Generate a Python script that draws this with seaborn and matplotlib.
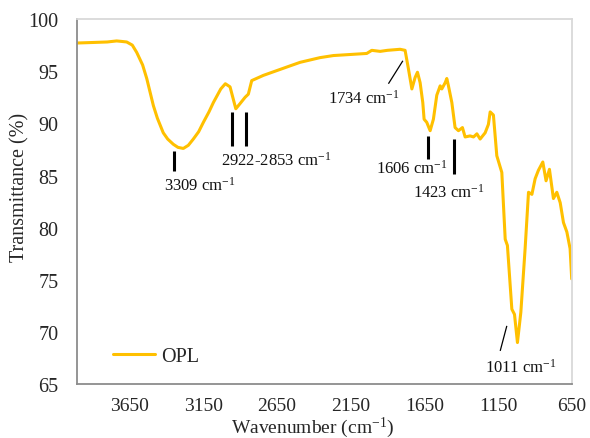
import matplotlib
matplotlib.use("Agg")
import matplotlib.pyplot as plt
import seaborn as sns
import pandas as pd

# ---- data ----
wavenumber = [4007, 3900, 3800, 3736, 3700, 3668, 3630, 3600, 3560, 3532, 3487, 3460,
              3420, 3390, 3352, 3320, 3284, 3250, 3216, 3180, 3148, 3110, 3080, 3030,
              2999, 2967, 2928, 2899, 2865, 2843, 2820,
              2741, 2582, 2492, 2357, 2266, 2153, 2040, 2006, 1949, 1900, 1814, 1780,
              1757, 1734, 1712, 1696, 1678, 1660, 1651, 1633, 1610, 1588, 1565, 1542,
              1531, 1508, 1497, 1486, 1463, 1441, 1418, 1391, 1373, 1339, 1316, 1293,
              1271, 1237, 1215, 1203, 1181, 1158, 1124, 1101, 1086, 1056, 1038, 1018,
              995, 966, 943, 920, 898, 876, 846, 824, 801, 774, 751, 728, 706, 683, 661, 650]
transmittance = [97.7, 97.75, 97.8, 97.9, 97.85, 97.8, 97.5, 96.8, 95.6, 94.3, 91.7, 90.5,
                 89.1, 88.5, 88.0, 87.7, 87.6, 87.9, 88.5, 89.2, 90.1, 91.1, 92.0, 93.3,
                 93.8, 93.5, 91.4, 91.9, 92.5, 92.8, 94.1,
                 94.6, 95.4, 95.85, 96.3, 96.5, 96.6, 96.7, 97.0, 96.9, 97.0, 97.1, 97.0,
                 95.2, 93.3, 94.4, 94.9, 93.9, 92.0, 90.4, 90.1, 89.3, 90.4, 92.7, 93.6,
                 93.3, 93.9, 94.3, 93.6, 92.0, 89.6, 89.3, 89.6, 88.7, 88.8, 88.7, 89.0,
                 88.5, 89.1, 89.9, 91.1, 90.8, 86.9, 85.3, 78.9, 78.3, 72.2, 71.7, 69.0,
                 71.9, 78.0, 83.4, 83.2, 84.7, 85.5, 86.3, 84.5, 85.6, 82.8, 83.4, 82.4,
                 80.5, 79.6, 78.0, 75.1]
series_name = "OPL"

x_ticks = [3650, 3150, 2650, 2150, 1650, 1150, 650]
y_ticks = [65, 70, 75, 80, 85, 90, 95, 100]

# annotation: label, label x, label y(baseline), ha, marker line (x0, y0, x1, y1), line width
peak_labels = ["3309", "2922-2853", "1734", "1606", "1423", "1011"]
peak_label_x = [3175, 3028, 2060, 1734, 1483, 994]
peak_label_y = [83.65, 86.0, 92.0, 85.3, 83.0, 66.2]
peak_label_ha = ["center", "left", "center", "center", "center", "center"]
peak_lines = [
    [(3347, 87.4, 3347, 85.4)],
    [(2955, 91.1, 2955, 87.8), (2860, 91.1, 2860, 87.8)],
    [(1893, 93.8, 1795, 96.0)],
    [(1626, 88.8, 1626, 86.6)],
    [(1447, 88.5, 1447, 85.15)],
    [(1090, 70.6, 1135, 68.2)],
]
peak_line_w = [2.2, 2.2, 0.9, 2.2, 2.2, 0.9]

df = pd.DataFrame({"Wavenumber": wavenumber, "Transmittance": transmittance,
                   "Sample": series_name})

sns.set_style("white")
plt.rcParams["font.family"] = ["Liberation Serif", "DejaVu Serif"]
plt.rcParams["mathtext.fontset"] = "custom"
plt.rcParams["mathtext.rm"] = "Liberation Serif"
plt.rcParams["mathtext.it"] = "Liberation Serif:italic"
plt.rcParams["mathtext.bf"] = "Liberation Serif:bold"

fig = plt.figure(figsize=(5.9, 4.39), dpi=100)
ax = fig.add_axes([0.1300, 0.1223, 0.8390, 0.8321])

sns.lineplot(data=df, x="Wavenumber", y="Transmittance", hue="Sample",
             palette=["#FFC000"], sort=False, linewidth=2.2, ax=ax)

ax.set_xlim(4007, 650)
ax.set_ylim(65, 100)
ax.set_xticks(x_ticks)
ax.set_yticks(y_ticks)
ax.tick_params(axis="x", direction="out", length=4, width=1, color="#8c8c8c",
               labelsize=14, pad=5)
ax.tick_params(axis="y", direction="in", length=4, width=1, color="#8c8c8c",
               labelsize=14.5, pad=13)

for side in ["left", "bottom"]:
    ax.spines[side].set_color("#8c8c8c")
    ax.spines[side].set_linewidth(1.3)
for side in ["top", "right"]:
    ax.spines[side].set_color("#d9d9d9")
    ax.spines[side].set_linewidth(1.3)

ax.set_xlabel("Wavenumber (cm$^{\\mathrm{-1}}$)", fontsize=14)
ax.xaxis.label.set_va("top")
ax.xaxis.set_label_coords(0.476, -0.084)
ax.set_ylabel("Transmittance (%)", fontsize=14.5)
ax.yaxis.label.set_va("center")
ax.yaxis.set_label_coords(-0.1145, 0.5415)

for lab, lx, ly, ha, lines, lw in zip(peak_labels, peak_label_x, peak_label_y,
                                      peak_label_ha, peak_lines, peak_line_w):
    ax.text(lx, ly, lab + " cm$^{\\mathrm{-1}}$", ha=ha, va="baseline",
            fontsize=12, color="#111111")
    for (x0, y0, x1, y1) in lines:
        ax.plot([x0, x1], [y0, y1], color="black", linewidth=lw,
                solid_capstyle="butt")

leg = ax.legend(loc="center left", bbox_to_anchor=(0.0733, 0.0775), frameon=False,
                borderpad=0, borderaxespad=0, handlelength=2.1, handletextpad=0.3,
                fontsize=14.5)
for h in leg.get_lines():
    h.set_linewidth(2.2)

fig.savefig("out.png", dpi=100)
